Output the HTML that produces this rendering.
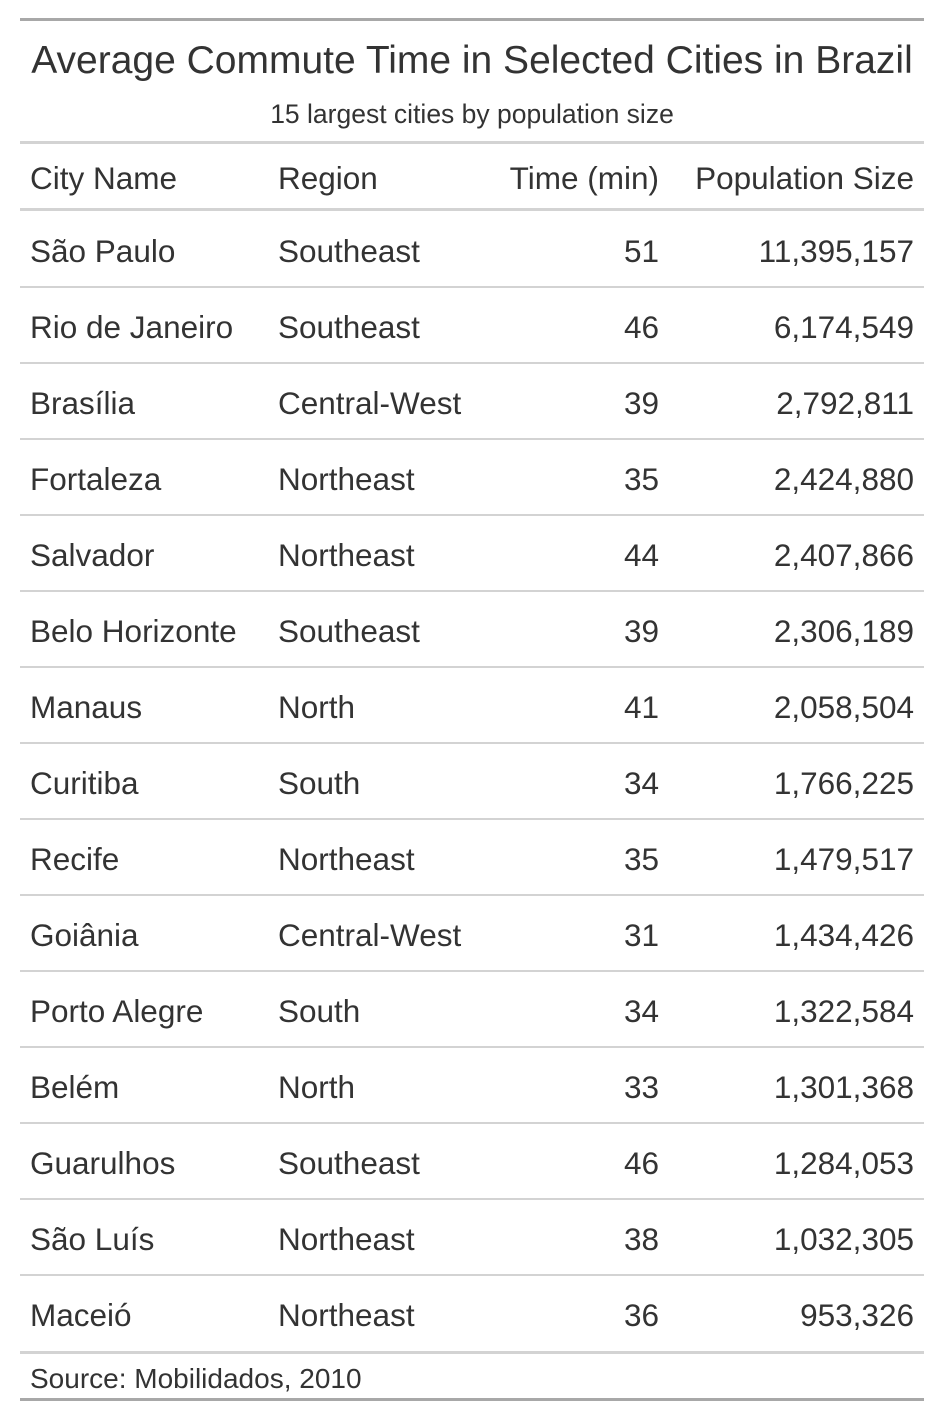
<!DOCTYPE html>
<html><head><meta charset="utf-8">
<style>
body{margin:0;background:#fff;width:944px;height:1420px;position:relative;font-family:"Liberation Sans",sans-serif;color:#333;}
.abs{position:absolute;white-space:nowrap;}
.hl{position:absolute;left:20px;width:904px;}
.cell{position:absolute;height:74px;line-height:80px;font-size:31.5px;white-space:nowrap;}
.r{text-align:right;}
</style></head>
<body>
<div class="hl" style="top:18px;height:3px;background:#a8a8a8"></div>
<div class="abs" style="left:20px;width:904px;top:38px;text-align:center;font-size:39px;line-height:46px">Average Commute Time in Selected Cities in Brazil</div>
<div class="abs" style="left:20px;width:904px;top:98px;text-align:center;font-size:26.5px;line-height:32px">15 largest cities by population size</div>
<div class="hl" style="top:141px;height:3px;background:#d3d3d3"></div>
<div class="cell" style="left:30px;top:143px;height:66px;line-height:70px">City Name</div>
<div class="cell" style="left:278px;top:143px;height:66px;line-height:70px">Region</div>
<div class="cell r" style="left:460px;width:199px;top:143px;height:66px;line-height:70px">Time (min)</div>
<div class="cell r" style="left:670px;width:244px;top:143px;height:66px;line-height:70px">Population Size</div>
<div class="hl" style="top:208px;height:3px;background:#d3d3d3"></div>
<div id="rows"></div>
<div class="hl" style="top:1351px;height:3px;background:#d3d3d3"></div>
<div class="abs" style="left:30px;top:1362px;font-size:28px;line-height:34px">Source: Mobilidados, 2010</div>
<div class="hl" style="top:1398px;height:3px;background:#a8a8a8"></div>
<script>
const cities=["São Paulo","Rio de Janeiro","Brasília","Fortaleza","Salvador","Belo Horizonte","Manaus","Curitiba","Recife","Goiânia","Porto Alegre","Belém","Guarulhos","São Luís","Maceió"];
const regions=["Southeast","Southeast","Central-West","Northeast","Northeast","Southeast","North","South","Northeast","Central-West","South","North","Southeast","Northeast","Northeast"];
const times=[51,46,39,35,44,39,41,34,35,31,34,33,46,38,36];
const pops=[11395157,6174549,2792811,2424880,2407866,2306189,2058504,1766225,1479517,1434426,1322584,1301368,1284053,1032305,953326];
const host=document.getElementById('rows');
function mk(cls,style,text){const d=document.createElement('div');d.className=cls;d.style.cssText=style;if(text!=null)d.textContent=text;host.appendChild(d);return d;}
cities.forEach((c,i)=>{
  const top=211+i*76;
  let e=mk('cell','left:30px;top:'+top+'px',c);
  
  
  e=mk('cell','left:278px;top:'+top+'px',regions[i]);
  
  
  e=mk('cell r','left:460px;width:199px;top:'+top+'px',String(times[i]));
  
  
  e=mk('cell r','left:670px;width:244px;top:'+top+'px',pops[i].toLocaleString('en-US'));
  
  
  if(i<cities.length-1){
    e=mk('hl','top:'+(top+75)+'px;height:2px;background:#d3d3d3',null);
    
    
  }
});
</script>
</body></html>
